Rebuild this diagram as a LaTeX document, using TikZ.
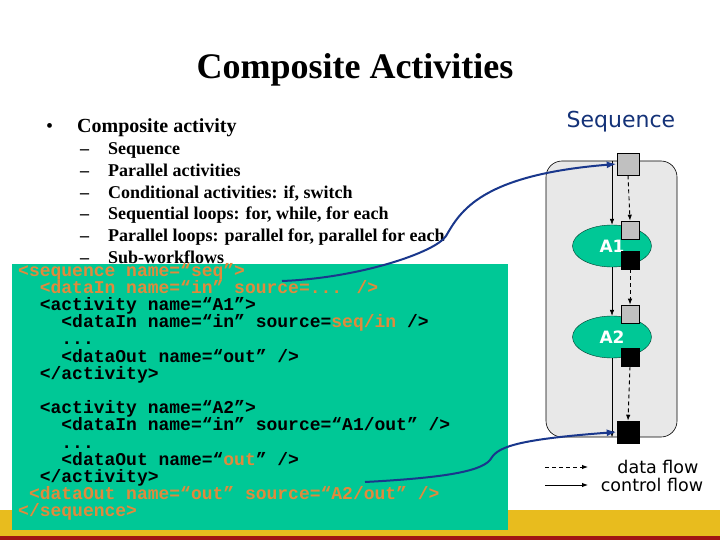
\documentclass[tikz,border=0pt]{standalone}
\usepackage{fontspec}
\setmainfont{Liberation Serif}
\newfontfamily\codefont{Liberation Mono}
\newfontfamily\comicfont{DejaVu Sans}
\usetikzlibrary{arrows.meta,shapes.geometric}
\definecolor{boxgreen}{RGB}{0,200,150}
\definecolor{codeorange}{RGB}{225,138,60}
\definecolor{bandgold}{RGB}{232,188,30}
\definecolor{bandred}{RGB}{160,20,20}
\definecolor{arrowblue}{RGB}{25,55,140}
\definecolor{seqgray}{RGB}{232,232,232}
\definecolor{portgray}{RGB}{192,192,192}
\definecolor{titleblue}{RGB}{20,50,120}
\newcommand{\og}[1]{\textcolor{codeorange}{#1}}
\begin{document}
\begin{tikzpicture}[x=1pt,y=-1pt,
  code/.style={anchor=base west,inner sep=0pt,font=\codefont\bfseries\fontsize{18}{18}\selectfont},
  ocode/.style={code,text=codeorange},
  item/.style={anchor=base west,inner sep=0pt,font=\bfseries\fontsize{18}{20}\selectfont},
  port/.style={draw=black,line width=0.6pt,fill=portgray,inner sep=0pt,minimum size=18pt},
  outportstyle/.style={draw=black,line width=0.6pt,fill=black,inner sep=0pt,minimum size=18pt},
  activity/.style={ellipse,fill=boxgreen,draw=black!70!boxgreen,line width=0.4pt,inner sep=0pt,minimum width=79pt,minimum height=42pt,text=white,font=\comicfont\bfseries\fontsize{17}{18}\selectfont},
  ctrl/.style={draw=black,line width=0.6pt,-{Latex[length=6pt,width=4.5pt]}},
  dataf/.style={draw=black,line width=0.9pt,dashed,dash pattern=on 4pt off 3pt,-{Latex[length=6pt,width=4.5pt]}},
  blueflow/.style={draw=arrowblue,line width=2pt,-{Latex[length=10pt,width=7pt]}},
  legendtext/.style={inner sep=0pt,font=\comicfont\fontsize{17.5}{19}\selectfont}
]
\useasboundingbox (0,0) rectangle (720,540);
\fill[white] (0,0) rectangle (720,540);
% bottom bands
\fill[bandgold] (0,510) rectangle (720,536);
\fill[bandred] (0,536) rectangle (720,540);

% title
\node[anchor=base,inner sep=0pt,font=\bfseries\fontsize{36}{40}\selectfont] (title) at (355,79) {Composite Activities};

% bullets
\node[anchor=base west,inner sep=0pt,font=\fontsize{20}{22}\selectfont] (bul) at (46,133) {•};
\node[anchor=base west,inner sep=0pt,font=\bfseries\fontsize{20}{22}\selectfont] (main) at (77,133) {Composite activity};
\foreach \t [count=\i] in {Sequence,Parallel activities,{Conditional activities: if, switch},{Sequential loops: for, while, for each},{Parallel loops: parallel for, parallel for each},Sub-workflows}{
  \node[item] (d\i) at (80,{155+(\i-1)*21.6}) {–};
  \node[item] (it\i) at (108,{155+(\i-1)*21.6}) {\t};
}

% code box
\node[fill=boxgreen,inner sep=0pt,minimum width=496pt,minimum height=266pt,anchor=north west] (codebox) at (12,264) {};
\node[ocode] (c1) at (18,276) {<sequence name=“seq”>};
\node[ocode] (c2) at (39.6,293.2) {<dataIn name=“in” source=... />};
\node[code] (c3) at (39.6,310.4) {<activity name=“A1”>};
\node[code] (c4) at (61.2,327.6) {<dataIn name=“in” source=\og{seq/in} />};
\node[code] (c5) at (61.2,344.8) {...};
\node[code] (c6) at (61.2,362) {<dataOut name=“out” />};
\node[code] (c7) at (39.6,379.2) {</activity>};
\node[code] (c9) at (39.6,413.6) {<activity name=“A2”>};
\node[code] (c10) at (61.2,430.8) {<dataIn name=“in” source=“A1/out” />};
\node[code] (c11) at (61.2,448) {...};
\node[code] (c12) at (61.2,465.2) {<dataOut name=“\og{out}” />};
\node[code] (c13) at (39.6,482.4) {</activity>};
\node[ocode] (c14) at (28.8,499.6) {<dataOut name=“out” source=“A2/out” />};
\node[ocode] (c15) at (18,516.8) {</sequence>};

% sequence diagram
\node[anchor=center,inner sep=0pt,text=titleblue,font=\comicfont\fontsize{22}{24}\selectfont] (seqlabel) at (621,122) {Sequence};
\node[draw=black,line width=0.6pt,fill=seqgray,rounded corners=16pt,minimum width=131pt,minimum height=276pt,inner sep=0pt] (seqbox) at (611.5,299) {};
\node[port,minimum size=22pt] (inport) at (628,164) {};
\node[activity] (a1) at (612,246) {A1};
\node[activity] (a2) at (612,337) {A2};
\node[port] (a1in) at (630,230) {};
\node[outportstyle] (a1out) at (630,260) {};
\node[port] (a2in) at (630,314) {};
\node[outportstyle] (a2out) at (630,357) {};
\node[outportstyle,minimum size=22pt] (outport) at (628,432) {};

% control flow
\draw[ctrl] (a1.north |- seqbox.north) -- (a1.north);
\draw[ctrl] (a1.south) -- (a2.north);
\draw[ctrl] (a2.south) -- (a2.south |- seqbox.south);
% data flow
\draw[dataf] (inport.south) -- (a1in.north);
\draw[dataf] (a1out.south) -- (a2in.north);
\draw[dataf] (a2out.south) -- (outport.north);

% blue connectors
\coordinate (srcin) at (282,281);
\coordinate (srcout) at (365,482);
\draw[blueflow] (srcin) .. controls (360,278) and (436,252) .. (446,236)
  .. controls (460,212) and (480,175) .. (inport.west);
\draw[blueflow] (srcout) .. controls (440,478) and (480,472) .. (490,460)
  .. controls (497,448) and (510,440) .. (outport.west);

% legend
\coordinate (l1s) at (545,467);
\coordinate (l1e) at (588,467);
\coordinate (l2s) at (545,485);
\coordinate (l2e) at (588,485);
\draw[dataf] (l1s) -- (l1e);
\draw[ctrl,line width=0.9pt] (l2s) -- (l2e);
\node[legendtext] (ldata) at (658,467) {data flow};
\node[legendtext] (lctrl) at (652,485) {control flow};
\end{tikzpicture}
\end{document}
